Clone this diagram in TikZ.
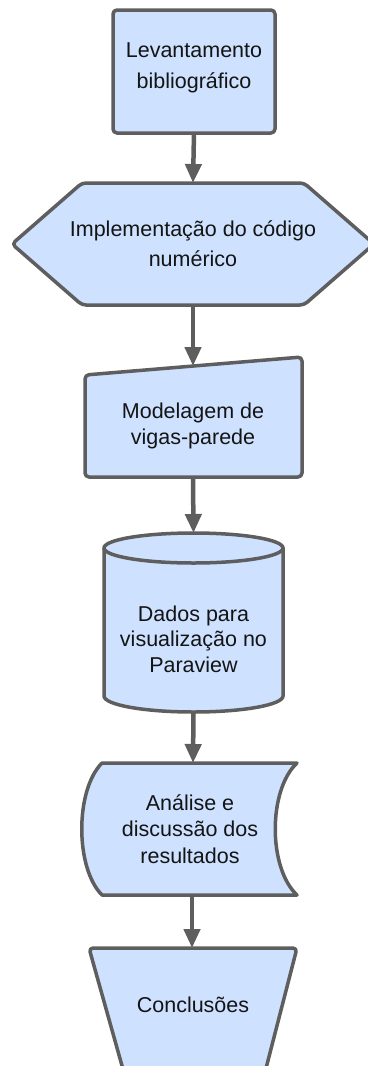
\documentclass[tikz,border=0pt]{standalone}
\usepackage{fontspec}
\setmainfont{Liberation Sans}
\usetikzlibrary{arrows.meta}
\definecolor{boxfill}{RGB}{206,225,255}
\definecolor{boxline}{RGB}{94,94,94}
\definecolor{txt}{RGB}{20,20,20}
\begin{document}
\begin{tikzpicture}[x=1pt,y=-1pt,
  shapebox/.style={fill=boxfill,draw=boxline,line width=3.5pt,line join=round,rounded corners=4pt},
  lbl/.style={text=txt,align=center,inner sep=0pt},
  flow/.style={draw=boxline,line width=4.5pt,-{Triangle[length=19pt,width=16pt]}}]
\useasboundingbox (0,0) rectangle (367,1066);
% 1 rounded rectangle
\draw[shapebox] (113,10) rectangle (275,133);
\coordinate (b1t) at (194,133);
\node[lbl,font=\fontsize{21.5}{31}\selectfont] (t1) at (194,68) {Levantamento\\bibliográfico};
% 2 hexagon
\draw[shapebox] (12,244) -- (82,183) -- (304,183) -- (374,244) -- (304,305) -- (82,305) -- cycle;
\coordinate (b2t) at (193,183);
\coordinate (b2b) at (193,305);
\node[lbl,font=\fontsize{21.5}{30}\selectfont] (t2) at (193,244) {Implementação do código\\numérico};
% 3 manual input
\draw[shapebox] (85,375) -- (302,357) -- (302,477) -- (85,477) -- cycle;
\coordinate (b3t) at (193,366);
\coordinate (b3b) at (193,477);
\node[lbl,font=\fontsize{21.5}{26}\selectfont] (t3) at (193,426) {Modelagem de\\vigas-parede};
% 4 cylinder
\draw[fill=boxfill,draw=boxline,line width=3.5pt]
  (104,548) -- (104,696) arc[start angle=180,end angle=0,x radius=89.5,y radius=16]
  -- (283,548) arc[start angle=0,end angle=-180,x radius=89.5,y radius=15] -- cycle;
\draw[draw=boxline,line width=3.5pt] (104,548) arc[start angle=180,end angle=0,x radius=89.5,y radius=15];
\coordinate (b4t) at (193.5,533);
\coordinate (b4b) at (193.5,712);
\node[lbl,font=\fontsize{21.5}{25.5}\selectfont] (t4) at (193.5,639) {Dados para\\visualização no\\Paraview};
% 5 stored data
\draw[shapebox,rounded corners=0pt] (102,763) -- (297,763) .. controls (268,790) and (268,868) .. (297,895)
  -- (102,895) .. controls (75,868) and (75,790) .. (102,763) -- cycle;
\coordinate (b5t) at (193,763);
\coordinate (b5b) at (192,895);
\node[lbl,font=\fontsize{21.5}{26.5}\selectfont] (t5) at (190,829) {Análise e\\discussão dos\\resultados};
% 6 trapezoid
\draw[shapebox] (126,1080) -- (89,948) -- (297,948) -- (263,1080);
\coordinate (b6t) at (192,948);
\node[lbl,font=\fontsize{21.5}{26}\selectfont] (t6) at (193,1005) {Conclusões};
% connectors
\draw[flow] (b1t) -- (b2t);
\draw[flow] (b2b) -- (b3t);
\draw[flow] (b3b) -- (b4t);
\draw[flow] (b4b) -- (b5t);
\draw[flow] (b5b) -- (b6t);
\end{tikzpicture}
\end{document}
